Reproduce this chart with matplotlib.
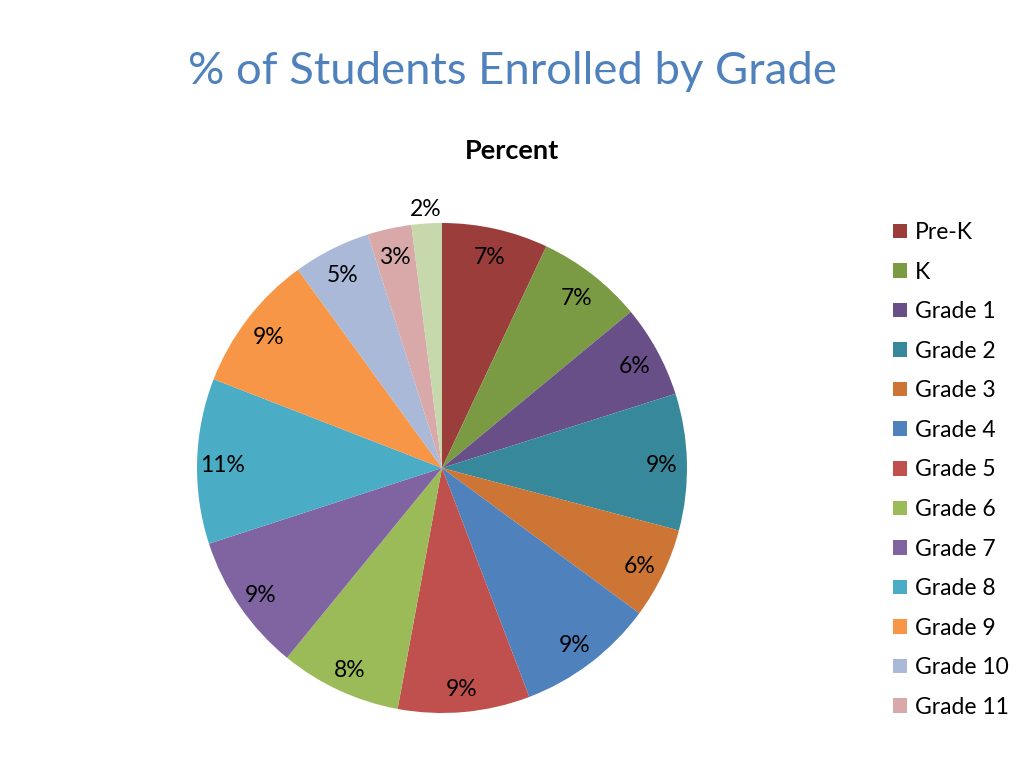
import matplotlib
matplotlib.use("Agg")
import matplotlib.pyplot as plt
from matplotlib.patches import Patch
import numpy as np

grades = ["Pre-K", "K", "Grade 1", "Grade 2", "Grade 3", "Grade 4", "Grade 5",
          "Grade 6", "Grade 7", "Grade 8", "Grade 9", "Grade 10", "Grade 11", "Grade 12"]
percent = [7.0, 7.0, 6.1, 9.0, 6.0, 9.1, 8.7, 8.0, 9.1, 10.9, 9.1, 5.1, 2.9, 2.0]
colors = ["#9A3D3B", "#7A9A44", "#684F88", "#37889A", "#CC7535", "#4F81BD", "#C0504D",
          "#9BBB59", "#8064A2", "#4BACC6", "#F79646", "#AAB9D7", "#D9A9A9", "#C6D8AC"]

plt.rcParams['font.family'] = ['Lato', 'DejaVu Sans']

fig = plt.figure(figsize=(10.24, 7.68), dpi=100)
fig.patch.set_facecolor("white")

R = 245
cx, cy = 442, 768 - 468
ax = fig.add_axes([(cx - R) / 1024, (cy - R) / 768, 2 * R / 1024, 2 * R / 768])
wedges, texts = ax.pie(percent, colors=colors, startangle=90, counterclock=False,
                       radius=1.0, wedgeprops=dict(linewidth=0))
ax.set_xlim(-1, 1)
ax.set_ylim(-1, 1)
ax.set_aspect('equal')
ax.axis('off')

cum = 0.0
total = sum(percent)
for v in percent:
    mid = 90 - (cum + v / 2) / total * 360
    cum += v
    r = 0.895 if v >= 2.5 else 1.07
    x = r * np.cos(np.radians(mid))
    y = r * np.sin(np.radians(mid)) - 0.014
    ax.text(x, y, f"{round(v):.0f}%", ha='center', va='center', fontsize=16.5, color='black')

fig.text(512 / 1024, 1 - 72 / 768, "% of Students Enrolled by Grade", ha='center', va='center',
         fontsize=32.7, color="#4F81BD")
fig.text(512 / 1024, 1 - 151 / 768, "Percent", ha='center', va='center',
         fontsize=19.5, fontweight='bold', color='black')

handles = [Patch(facecolor=c, edgecolor='none') for c in colors[:13]]
leg = fig.legend(handles, grades[:13], loc='upper left', bbox_to_anchor=(893 / 1024, 1 - 222 / 768),
                 frameon=False, fontsize=16.5, handlelength=0.6, handleheight=0.6,
                 handletextpad=0.35, labelspacing=0.81, borderaxespad=0, borderpad=0)

fig.savefig("out.png", dpi=100)
